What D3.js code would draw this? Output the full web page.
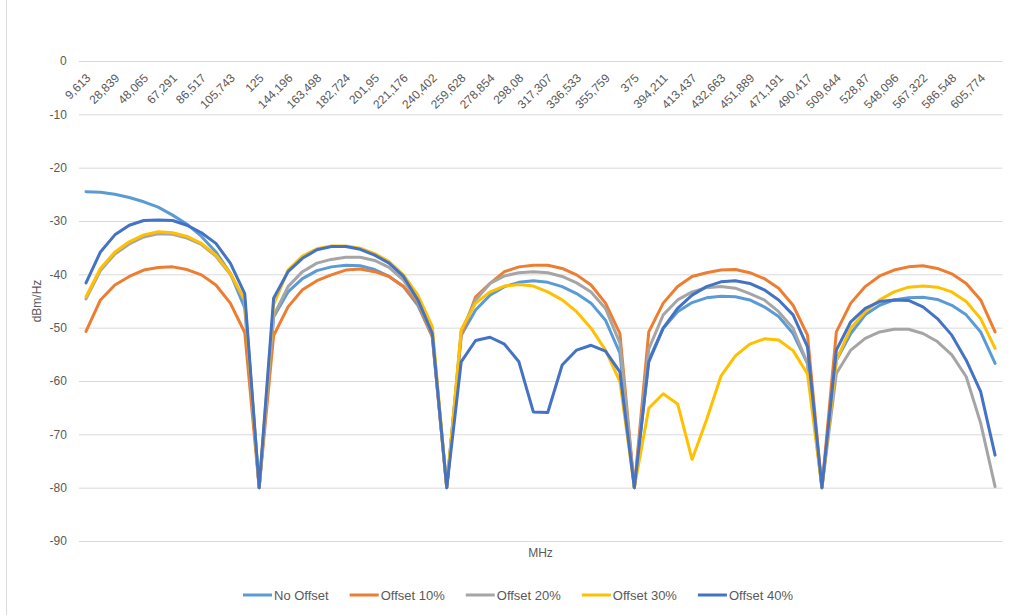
<!DOCTYPE html>
<html>
<head>
<meta charset="utf-8">
<script src="https://cdn.jsdelivr.net/npm/d3@7"></script>
<style>
  html, body { margin: 0; padding: 0; background: #fff; }
  svg text { font-family: "Liberation Sans", Arial, sans-serif; fill: #595959; }
</style>
</head>
<body>
<svg id="chart" width="1011" height="615"></svg>
<script>
// Frequency bins (MHz), decimal comma as printed on the axis
const categories = [
  "9,613","19,226","28,839","38,452","48,065","57,678","67,291","76,904","86,517","96,13",
  "105,743","115,356","125","134,582","144,196","153,847","163,498","173,111","182,724","192,337",
  "201,95","211,563","221,176","230,789","240,402","250","259,628","269,241","278,854","288,467",
  "298,08","307,693","317,307","326,92","336,533","346,146","355,759","365,372","375","384,598",
  "394,211","403,824","413,437","423,05","432,663","442,276","451,889","461,54","471,191","480,804",
  "490,417","500","509,644","519,257","528,87","538,483","548,096","557,709","567,322","576,935",
  "586,548","596,161","605,774","615,387"
];

// Power spectral density (dBm/Hz) per series
const noOffset = [
  -24.5,-24.6,-25.0,-25.6,-26.4,-27.4,-28.9,-30.6,-32.9,-35.8,-39.8,-46.3,-80,
  -48.0,-43.3,-40.8,-39.3,-38.6,-38.3,-38.4,-39.1,-40.4,-42.3,-45.8,-51.7,-80,
  -51.4,-46.7,-43.9,-42.3,-41.5,-41.2,-41.5,-42.3,-43.6,-45.4,-48.6,-54.8,-80,
  -56.1,-50.1,-47.0,-45.3,-44.4,-44.1,-44.2,-44.8,-46.1,-47.9,-51.1,-56.7,-80,
  -56.1,-51.1,-47.6,-45.8,-44.8,-44.4,-44.3,-44.7,-45.8,-47.6,-50.8,-56.7
];
const offset10 = [
  -50.7,-44.8,-42.0,-40.4,-39.2,-38.7,-38.6,-39.1,-40.1,-42.0,-45.4,-50.9,-80,
  -51.5,-46.1,-42.9,-41.2,-40.1,-39.2,-39.0,-39.5,-40.4,-42.3,-45.4,-51.7,-80,
  -51.5,-44.2,-41.7,-39.5,-38.6,-38.3,-38.3,-38.9,-40.1,-42.0,-45.4,-51.1,-80,
  -50.8,-45.4,-42.3,-40.4,-39.7,-39.2,-39.1,-39.7,-40.8,-42.6,-45.8,-51.4,-80,
  -50.8,-45.4,-42.3,-40.3,-39.2,-38.6,-38.4,-38.9,-39.9,-41.7,-44.8,-50.8
];
const offset20 = [
  -44.6,-39.3,-36.2,-34.3,-33.0,-32.4,-32.5,-33.2,-34.4,-36.6,-40.0,-45.0,-80,
  -47.8,-42.3,-39.5,-37.9,-37.2,-36.8,-36.8,-37.4,-38.7,-41.1,-45.1,-51.1,-80,
  -50.7,-44.8,-41.7,-40.3,-39.7,-39.5,-39.7,-40.4,-41.6,-43.3,-46.4,-52.9,-80,
  -54.0,-47.6,-44.8,-43.3,-42.5,-42.3,-42.6,-43.6,-44.8,-47.0,-50.1,-56.7,-80,
  -58.6,-54.2,-52.0,-50.8,-50.3,-50.3,-51.1,-52.6,-55.1,-59.2,-67.9,-79.8
];
const offset30 = [
  -44.2,-38.9,-35.8,-33.9,-32.6,-32.0,-32.2,-32.9,-34.2,-36.4,-39.8,-44.8,-80,
  -45.7,-39.2,-36.6,-35.2,-34.7,-34.7,-35.1,-36.1,-37.6,-40.1,-43.9,-49.8,-80,
  -50.4,-45.4,-43.3,-42.2,-41.9,-42.2,-43.3,-44.8,-47.0,-50.1,-54.2,-60.1,-80,
  -65.1,-62.4,-64.3,-74.7,-67.3,-59.1,-55.3,-53.1,-52.1,-52.3,-54.3,-58.7,-80,
  -56.1,-50.1,-47.0,-44.8,-43.3,-42.4,-42.2,-42.4,-43.3,-45.1,-48.3,-53.9
];
const offset40 = [
  -41.6,-35.8,-32.6,-30.8,-29.9,-29.8,-29.9,-30.8,-32.2,-34.2,-37.9,-43.6,-80,
  -44.5,-39.5,-37.0,-35.4,-34.8,-34.8,-35.3,-36.4,-37.9,-40.4,-44.8,-51.1,-80,
  -56.4,-52.4,-51.8,-53.1,-56.4,-65.8,-65.9,-57.0,-54.2,-53.3,-54.4,-58.3,-80,
  -56.4,-50.1,-46.4,-43.9,-42.3,-41.4,-41.2,-41.7,-42.9,-44.8,-47.6,-53.6,-80,
  -54.2,-48.9,-46.4,-45.1,-44.8,-44.9,-46.1,-48.3,-51.4,-56.1,-62.0,-73.9
];

const seriesNames  = ["No Offset", "Offset 10%", "Offset 20%", "Offset 30%", "Offset 40%"];
const seriesColors = ["#5B9BD5", "#ED7D31", "#A5A5A5", "#FFC000", "#4472C4"];
const yTicks = [0, -10, -20, -30, -40, -50, -60, -70, -80, -90];

const series = [noOffset, offset10, offset20, offset30, offset40].map((values, i) => ({
  name: seriesNames[i], color: seriesColors[i], values
}));

const svg = d3.select("#chart");
const plot = { left: 78.8, right: 1002.3, top: 61, bottom: 541 };

const x = d3.scalePoint().domain(categories).range([plot.left, plot.right]).padding(0.5);
const y = d3.scaleLinear().domain([-90, 0]).range([plot.bottom, plot.top]);

// chart frame edge
svg.append("line")
  .attr("x1", 6.5).attr("x2", 6.5).attr("y1", 0).attr("y2", 615)
  .attr("stroke", "#D9D9D9").attr("stroke-width", 1);

// value axis with horizontal gridlines
const yAxisG = svg.append("g")
  .attr("transform", `translate(${plot.left},0)`)
  .call(d3.axisLeft(y)
    .tickValues(yTicks)
    .tickSize(-(plot.right - plot.left))
    .tickPadding(12)
    .tickFormat(d => String(d)));
yAxisG.select(".domain").remove();
yAxisG.selectAll(".tick line").attr("stroke", "#D9D9D9").attr("stroke-width", 1);
yAxisG.selectAll(".tick text").attr("font-size", 12).style("fill", "#595959");

// category axis along 0 dBm/Hz, every second bin labelled
const xAxisG = svg.append("g")
  .attr("transform", `translate(0,${y(0)})`)
  .call(d3.axisBottom(x)
    .tickValues(categories.filter((d, i) => i % 2 === 0))
    .tickSize(0));
xAxisG.select(".domain").remove();
xAxisG.selectAll(".tick text")
  .attr("font-size", 12)
  .style("fill", "#595959")
  .attr("x", 0).attr("y", 0).attr("dy", null)
  .attr("text-anchor", "end")
  .attr("dominant-baseline", "central")
  .attr("transform", "translate(2,15) rotate(-45)");

// series lines
const line = d3.line()
  .x((d, i) => x(categories[i]))
  .y(d => y(d));

svg.append("g").selectAll("path")
  .data(series)
  .join("path")
  .attr("d", d => line(d.values))
  .attr("fill", "none")
  .attr("stroke", d => d.color)
  .attr("stroke-width", 3)
  .attr("stroke-linejoin", "round")
  .attr("stroke-linecap", "round");

// axis titles
svg.append("text")
  .attr("x", (plot.left + plot.right) / 2).attr("y", 553)
  .attr("text-anchor", "middle").attr("dominant-baseline", "central")
  .attr("font-size", 12).text("MHz");

svg.append("text")
  .attr("transform", `translate(37,${(plot.top + plot.bottom) / 2}) rotate(-90)`)
  .attr("text-anchor", "middle").attr("dominant-baseline", "central")
  .attr("font-size", 12).text("dBm/Hz");

// legend
const legend = svg.append("g");
const items = legend.selectAll("g").data(series).join("g");
items.append("line")
  .attr("x1", 0).attr("x2", 29).attr("y1", 0).attr("y2", 0)
  .attr("stroke", d => d.color).attr("stroke-width", 3);
items.append("text")
  .attr("x", 31).attr("y", 0)
  .attr("dominant-baseline", "central")
  .attr("font-size", 13)
  .text(d => d.name);

const gap = 21;
const widths = [];
items.each(function () { widths.push(31 + this.querySelector("text").getComputedTextLength()); });
const total = d3.sum(widths) + gap * (widths.length - 1);
let cursor = 518 - total / 2;
items.attr("transform", (d, i) => {
  const t = `translate(${cursor},595)`;
  cursor += widths[i] + gap;
  return t;
});
</script>
</body>
</html>
